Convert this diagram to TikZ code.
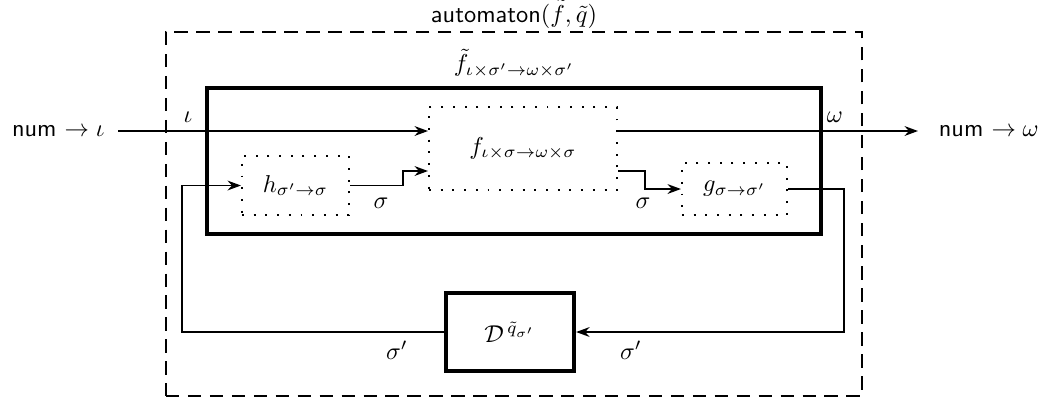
\documentclass[tikz,border=0pt]{standalone}
\usepackage{amsmath,amssymb}
\usepackage{tikz}
\usetikzlibrary{positioning, arrows.meta, calc}

\begin{document}
\begin{tikzpicture}[x=0.41pt, y=-0.41pt, >={Stealth[length=5.5pt,width=4pt]}, font=\normalsize]
    \tikzset{
        outerbox/.style={draw, thick, dash pattern=on 5.5pt off 3.5pt, inner sep=0pt},
        bigbox/.style={draw, line width=1.7pt, inner sep=0pt},
        subbox/.style={draw, thick, loosely dotted, inner sep=0pt},
        wire/.style={thick}
    }
    \useasboundingbox (0,0) rectangle (1039,402);

    % Outer automaton box (dashed) and the f-tilde box (very thick)
    \node[outerbox, minimum width=285.4pt, minimum height=149.2pt,
          label={[name=autolbl, inner sep=1pt]above:{\textsf{automaton}$(\tilde{f},\tilde{q})$}}] (auto) at (514,214) {};
    \node[bigbox, minimum width=251.7pt, minimum height=59.9pt,
          label={[name=ftlbl]above:{$\tilde{f}_{\iota\times\sigma'\to\omega\times\sigma'}$}}] (ft) at (514,161) {};

    % Inner dotted boxes
    \node[subbox, minimum width=77.1pt, minimum height=34pt] (f) at (523,148.5) {$f_{\iota\times\sigma\to\omega\times\sigma}$};
    \node[subbox, minimum width=43.9pt, minimum height=24.2pt] (h) at (295.5,185.5) {$h_{\sigma'\to\sigma}$};
    \node[subbox, minimum width=43.1pt, minimum height=21.3pt] (g) at (734.5,189) {$g_{\sigma\to\sigma'}$};

    % Delay box
    \node[bigbox, minimum width=52.5pt, minimum height=32pt] (D) at (510,332) {$\mathcal{D}^{\,\tilde{q}_{\sigma'}}$};

    % Input and output
    \coordinate (in) at (118,131);
    \coordinate (out) at (918,131);
    \node[left=2pt of in] (numin) {\textsf{num} $\to\iota$};
    \node[right=5pt of out] (numout) {\textsf{num} $\to\omega$};

    \draw[wire, ->] (in) -- (f.west |- in);
    \draw[wire, ->] (f.east |- out) -- (out);
    \node (iota) at (188,117) {$\iota$};
    \node (omega) at (835,117) {$\omega$};

    % State wires inside
    \draw[wire, ->] (h.east) -- ++(53,0) |- ($(f.west)+(0,22.5)$);
    \draw[wire, ->] ($(f.east)+(0,22.5)$) -- ++(27,0) |- (g.west);
    \node (sig1) at (381,203) {$\sigma$};
    \node (sig2) at (643,203) {$\sigma$};

    % Feedback through the delay
    \draw[wire, ->] (g.east) -- ++(56,0) |- (D.east);
    \draw[wire, ->] (D.west) -- ++(-262,0) |- (h.west);
    \node (sigp1) at (397,350) {$\sigma'$};
    \node (sigp2) at (631,350) {$\sigma'$};
\end{tikzpicture}
\end{document}
